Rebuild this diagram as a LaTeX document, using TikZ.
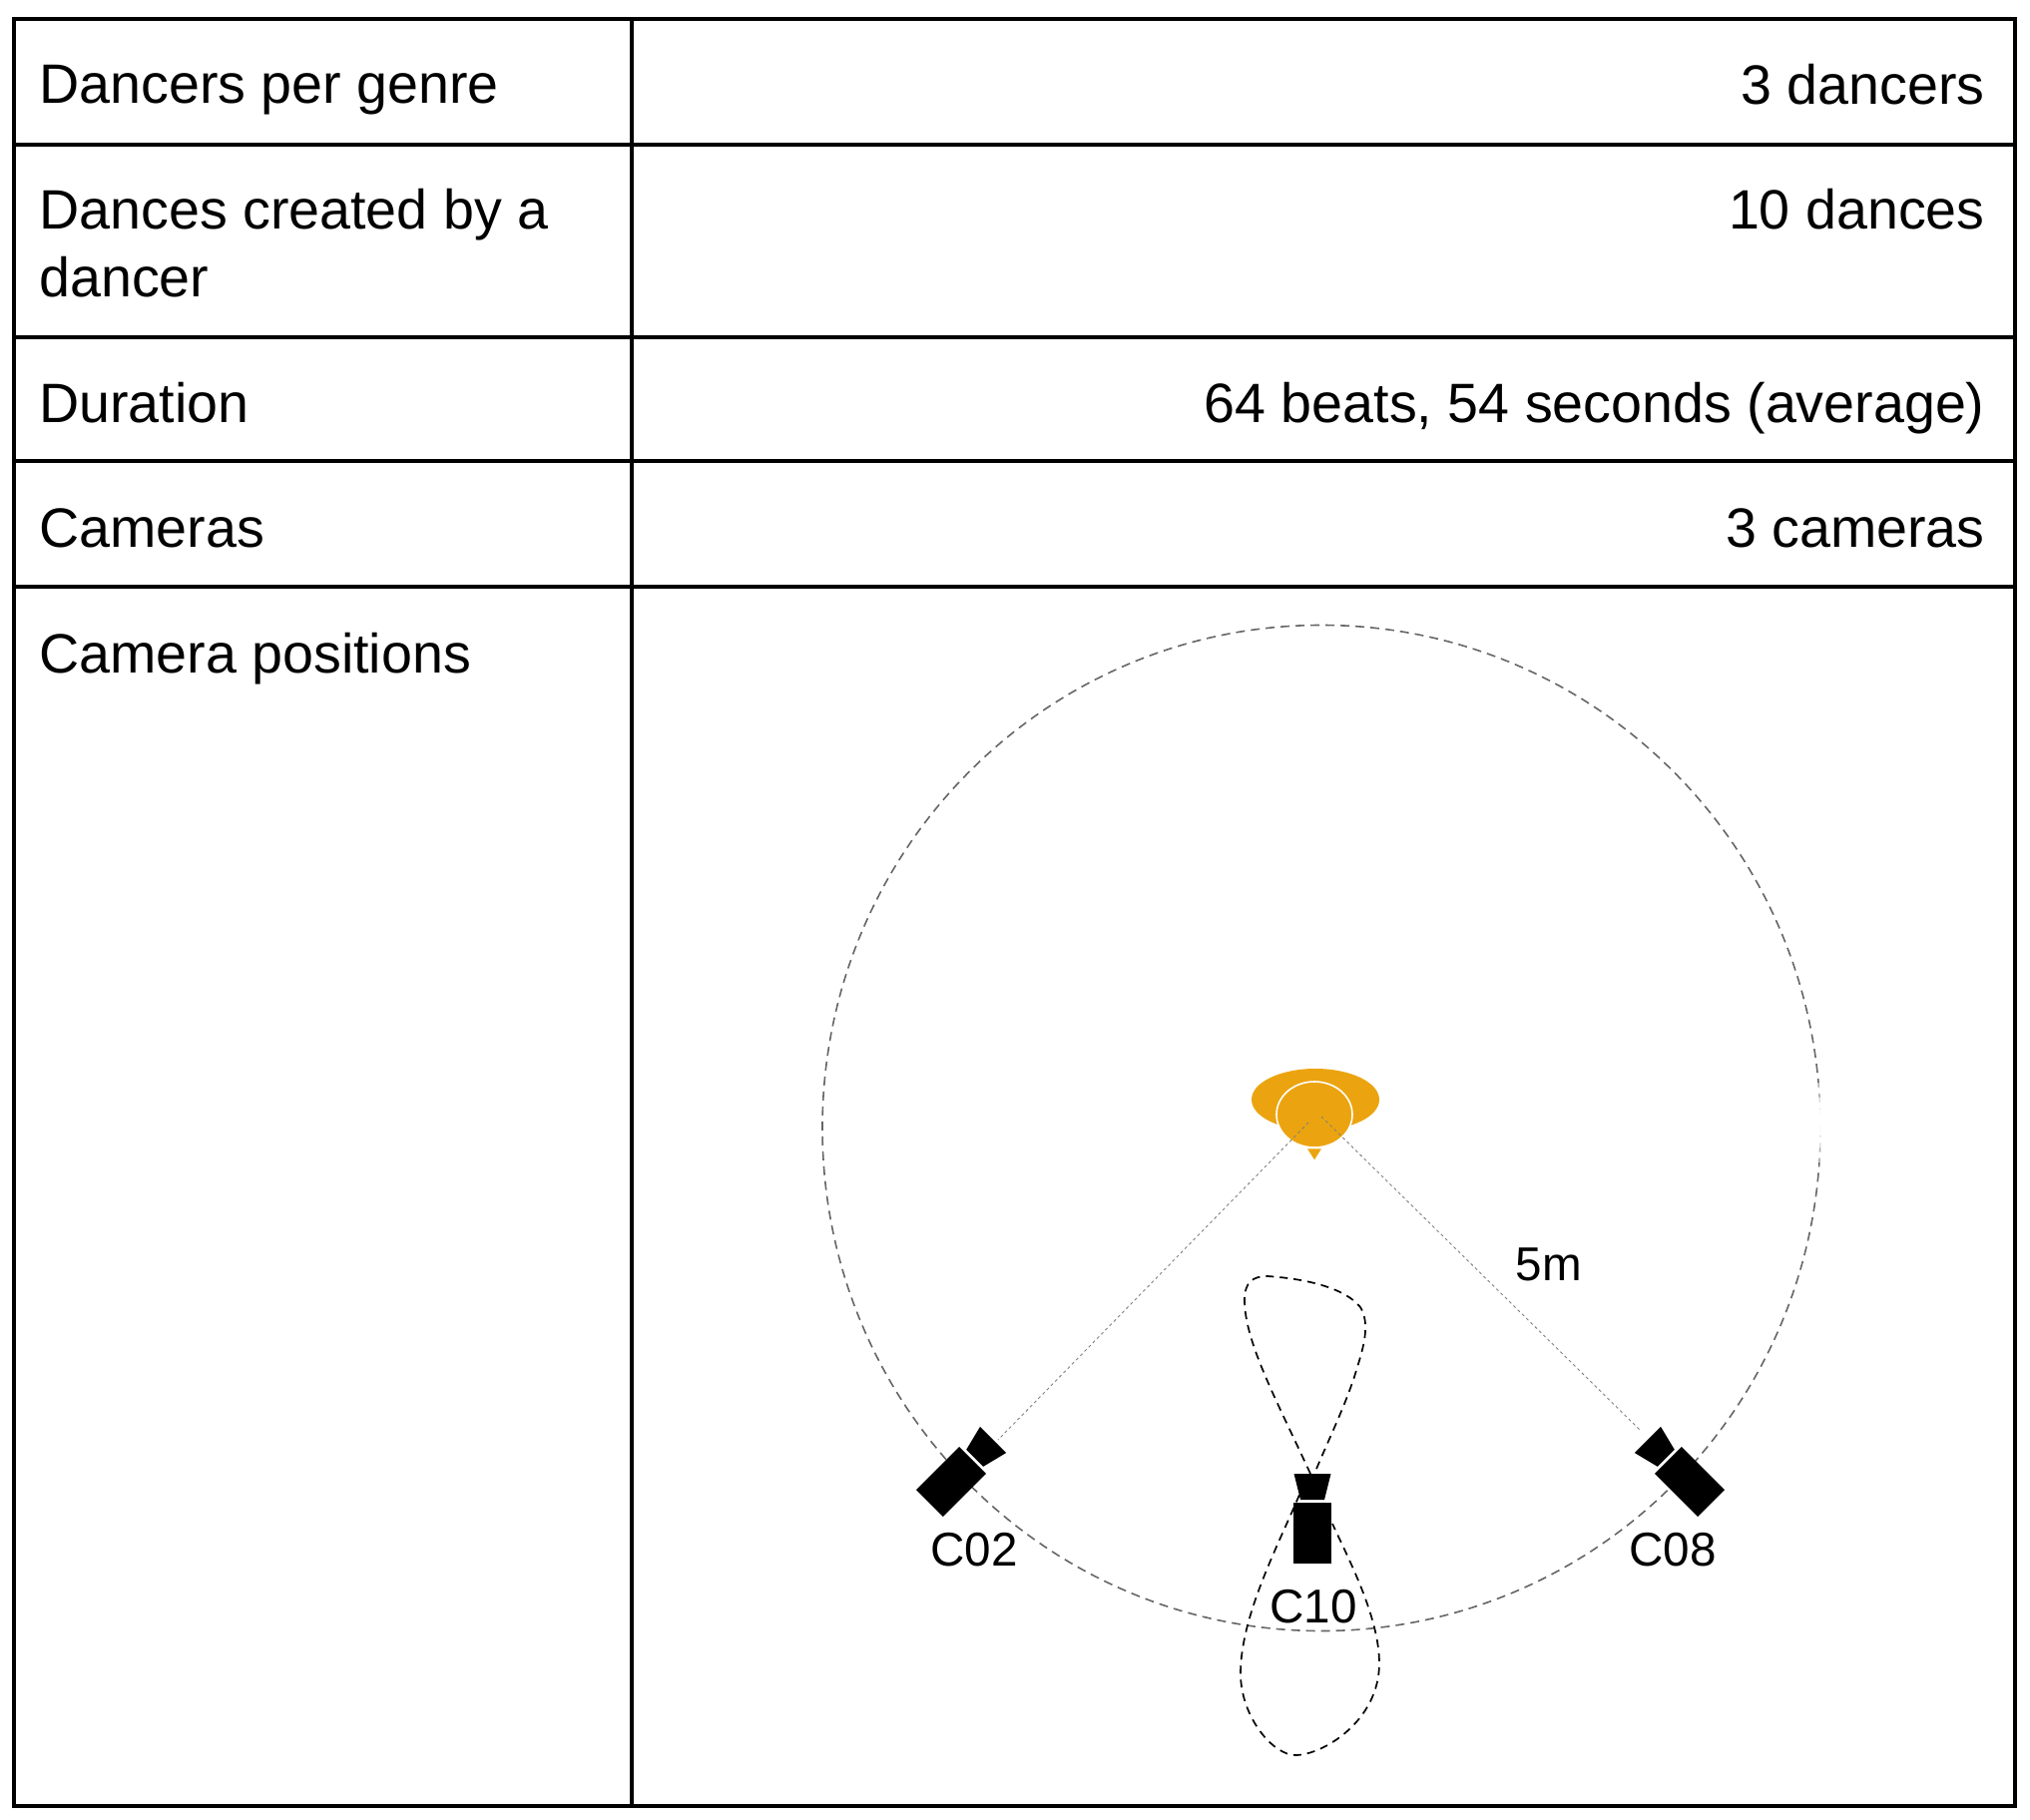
\documentclass[tikz,border=0pt]{standalone}
\usepackage{fontspec}
\setmainfont{Liberation Sans}
\usetikzlibrary{arrows.meta,positioning,shapes.geometric}
\definecolor{dancerorange}{HTML}{EBA40F}

\begin{document}
\begin{tikzpicture}[x=0.5pt, y=-0.5pt, font=\fontsize{27.8}{33}\selectfont,
  rowlabel/.style={anchor=base west, inner sep=0pt, align=left},
  rowvalue/.style={anchor=base east, inner sep=0pt, align=right},
  grid/.style={draw=black, line width=1.8pt},
  radiusline/.style={draw=gray, line width=0.45pt, dash pattern=on 1.5pt off 1.5pt},
  stage/.style={draw=black!60, line width=0.8pt, dash pattern=on 4.5pt off 3pt},
  lobe/.style={draw=black, line width=0.85pt, dash pattern=on 4pt off 3pt},
  camlabel/.style={font=\fontsize{23.8}{28}\selectfont, inner sep=0pt},
  cambody/.style={fill=black, inner sep=0pt, minimum width=19pt, minimum height=30.5pt},
  pics/camera/.style={code={
    \node[cambody, transform shape] (-body) at (0,0) {};
    \fill (-18.5,-59.5) -- (18.5,-59.5) -- (12,-33.5) -- (-12,-33.5) -- cycle;
  }}]
\useasboundingbox (0,0) rectangle (2034,1824);
% table
\path[grid] (14,19) rectangle (2019,1810);
\draw[grid] (633,19) -- (633,1810);
\draw[grid] (14,145) -- (2019,145);
\draw[grid] (14,338) -- (2019,338);
\draw[grid] (14,462) -- (2019,462);
\draw[grid] (14,588) -- (2019,588);
\node[rowlabel] (genre) at (39,104) {Dancers per genre};
\node[rowlabel] (created) at (39,230) {Dances created by a};
\node[rowlabel] (createdb) at (39,298) {dancer};
\node[rowlabel] (duration) at (39,423) {Duration};
\node[rowlabel] (cameras) at (39,548) {Cameras};
\node[rowlabel] (positions) at (39,674) {Camera positions};
\node[rowvalue] (genreval) at (1989,105) {3 dancers};
\node[rowvalue] (createdval) at (1989,230) {10 dances};
\node[rowvalue] (durationval) at (1989,423) {64 beats, 54 seconds (average)};
\node[rowvalue] (camerasval) at (1989,548) {3 cameras};
% stage
\draw[stage] (1324,1130.5) ellipse [x radius=500, y radius=504];
\fill[white, opacity=.5] (1814,1085) rectangle (1834,1165);
\fill[white, opacity=.6] (1814,1100) rectangle (1834,1150);
\fill[white, opacity=.9] (1814,1112) rectangle (1834,1138);
\draw[lobe] (1313,1477) .. controls (1280,1405) and (1247,1345) .. (1247,1303)
  .. controls (1247,1285) and (1255,1279) .. (1270,1279)
  .. controls (1300,1281) and (1345,1288) .. (1363,1310)
  .. controls (1372,1325) and (1368,1345) .. (1360,1370)
  .. controls (1350,1405) and (1330,1445) .. (1317,1477);
\draw[lobe] (1302,1498) .. controls (1280,1550) and (1243,1620) .. (1243,1677)
  .. controls (1243,1720) and (1275,1759) .. (1298,1759)
  .. controls (1325,1759) and (1382,1725) .. (1382,1667)
  .. controls (1382,1620) and (1350,1560) .. (1335,1527);
% cameras
\pic (camB) at (953,1485) [rotate=-45] {camera};
\pic (camC) at (1315,1536.5) {camera};
\pic (camD) at (1693,1485) [rotate=45] {camera};
\node[camlabel] (labB) at (976,1553) {C02};
\node[camlabel] (labC) at (1316,1610) {C10};
\node[camlabel] (labD) at (1676,1553) {C08};
% dancer
\node[ellipse, fill=dancerorange, inner sep=0pt, minimum width=64pt, minimum height=31pt] (torso) at (1318,1102) {};
\node[ellipse, fill=dancerorange, draw=white, line width=0.8pt, inner sep=0pt, minimum width=38pt, minimum height=33pt] (head) at (1317,1117) {};
\node[isosceles triangle, shape border rotate=-90, isosceles triangle apex angle=65, fill=dancerorange, inner sep=0pt, minimum height=5.5pt, minimum width=7pt, anchor=apex] (nose) at (1317,1163) {};
\coordinate (eyeL) at (1311,1125);
\coordinate (eyeR) at (1324,1119);
\coordinate (aimB) at (1000,1443);
\coordinate (aimD) at (1643,1433);
\draw[radiusline] (eyeL) -- (aimB);
\draw[radiusline] (eyeR) -- (aimD);
\node[camlabel] (dist) at (1552,1267) {5m};
\end{tikzpicture}
\end{document}
